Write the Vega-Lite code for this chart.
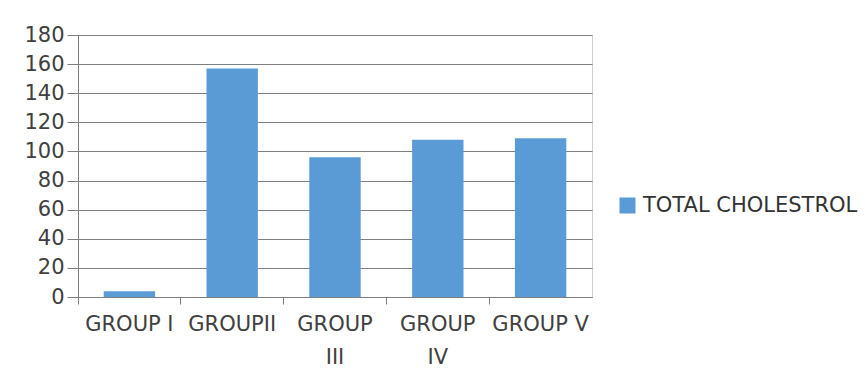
{
  "$schema": "https://vega.github.io/schema/vega-lite/v6.json",
  "width": 514,
  "height": 262,
  "autosize": {"type": "none"},
  "padding": {"left": 78, "top": 35, "right": 275, "bottom": 79},
  "background": "white",
  "data": {
    "values": [
      {"group": "GROUP I", "series": "TOTAL CHOLESTROL", "value": 4},
      {"group": "GROUPII", "series": "TOTAL CHOLESTROL", "value": 157},
      {"group": "GROUP III", "series": "TOTAL CHOLESTROL", "value": 96},
      {"group": "GROUP IV", "series": "TOTAL CHOLESTROL", "value": 108},
      {"group": "GROUP V", "series": "TOTAL CHOLESTROL", "value": 109}
    ]
  },
  "mark": {"type": "bar", "width": {"band": 0.5}},
  "encoding": {
    "x": {
      "field": "group",
      "type": "nominal",
      "sort": null,
      "title": null,
      "scale": {"paddingInner": 0, "paddingOuter": 0},
      "axis": {
        "labelAngle": 0,
        "bandPosition": 0,
        "labelExpr": "datum.label == 'GROUP III' ? ['GROUP', 'III'] : datum.label == 'GROUP IV' ? ['GROUP', 'IV'] : datum.label",
        "labelFont": "DejaVu Sans",
        "labelFontSize": 21,
        "labelColor": "#404040",
        "labelPadding": 9,
        "labelLineHeight": 33,
        "labelLimit": 0,
        "domainColor": "#7f7f7f",
        "tickColor": "#7f7f7f",
        "tickSize": 7,
        "grid": false
      }
    },
    "y": {
      "field": "value",
      "type": "quantitative",
      "title": null,
      "scale": {"domain": [0, 180], "nice": false},
      "axis": {
        "values": [0, 20, 40, 60, 80, 100, 120, 140, 160, 180],
        "labelFont": "DejaVu Sans",
        "labelFontSize": 21,
        "labelColor": "#404040",
        "labelPadding": 3,
        "domainColor": "#7f7f7f",
        "tickColor": "#7f7f7f",
        "tickSize": 11,
        "gridColor": "#7f7f7f",
        "gridWidth": 1.2
      }
    },
    "color": {
      "field": "series",
      "type": "nominal",
      "scale": {"range": ["#5B9BD5"]},
      "legend": {
        "title": null,
        "orient": "none",
        "legendX": 539,
        "legendY": 160,
        "symbolType": "square",
        "symbolSize": 256,
        "symbolStrokeWidth": 0,
        "labelFont": "DejaVu Sans",
        "labelFontSize": 21,
        "labelLimit": 0,
        "labelColor": "#333333",
        "labelOffset": 5
      }
    }
  },
  "config": {
    "view": {"stroke": "#cfcfcf"}
  }
}
